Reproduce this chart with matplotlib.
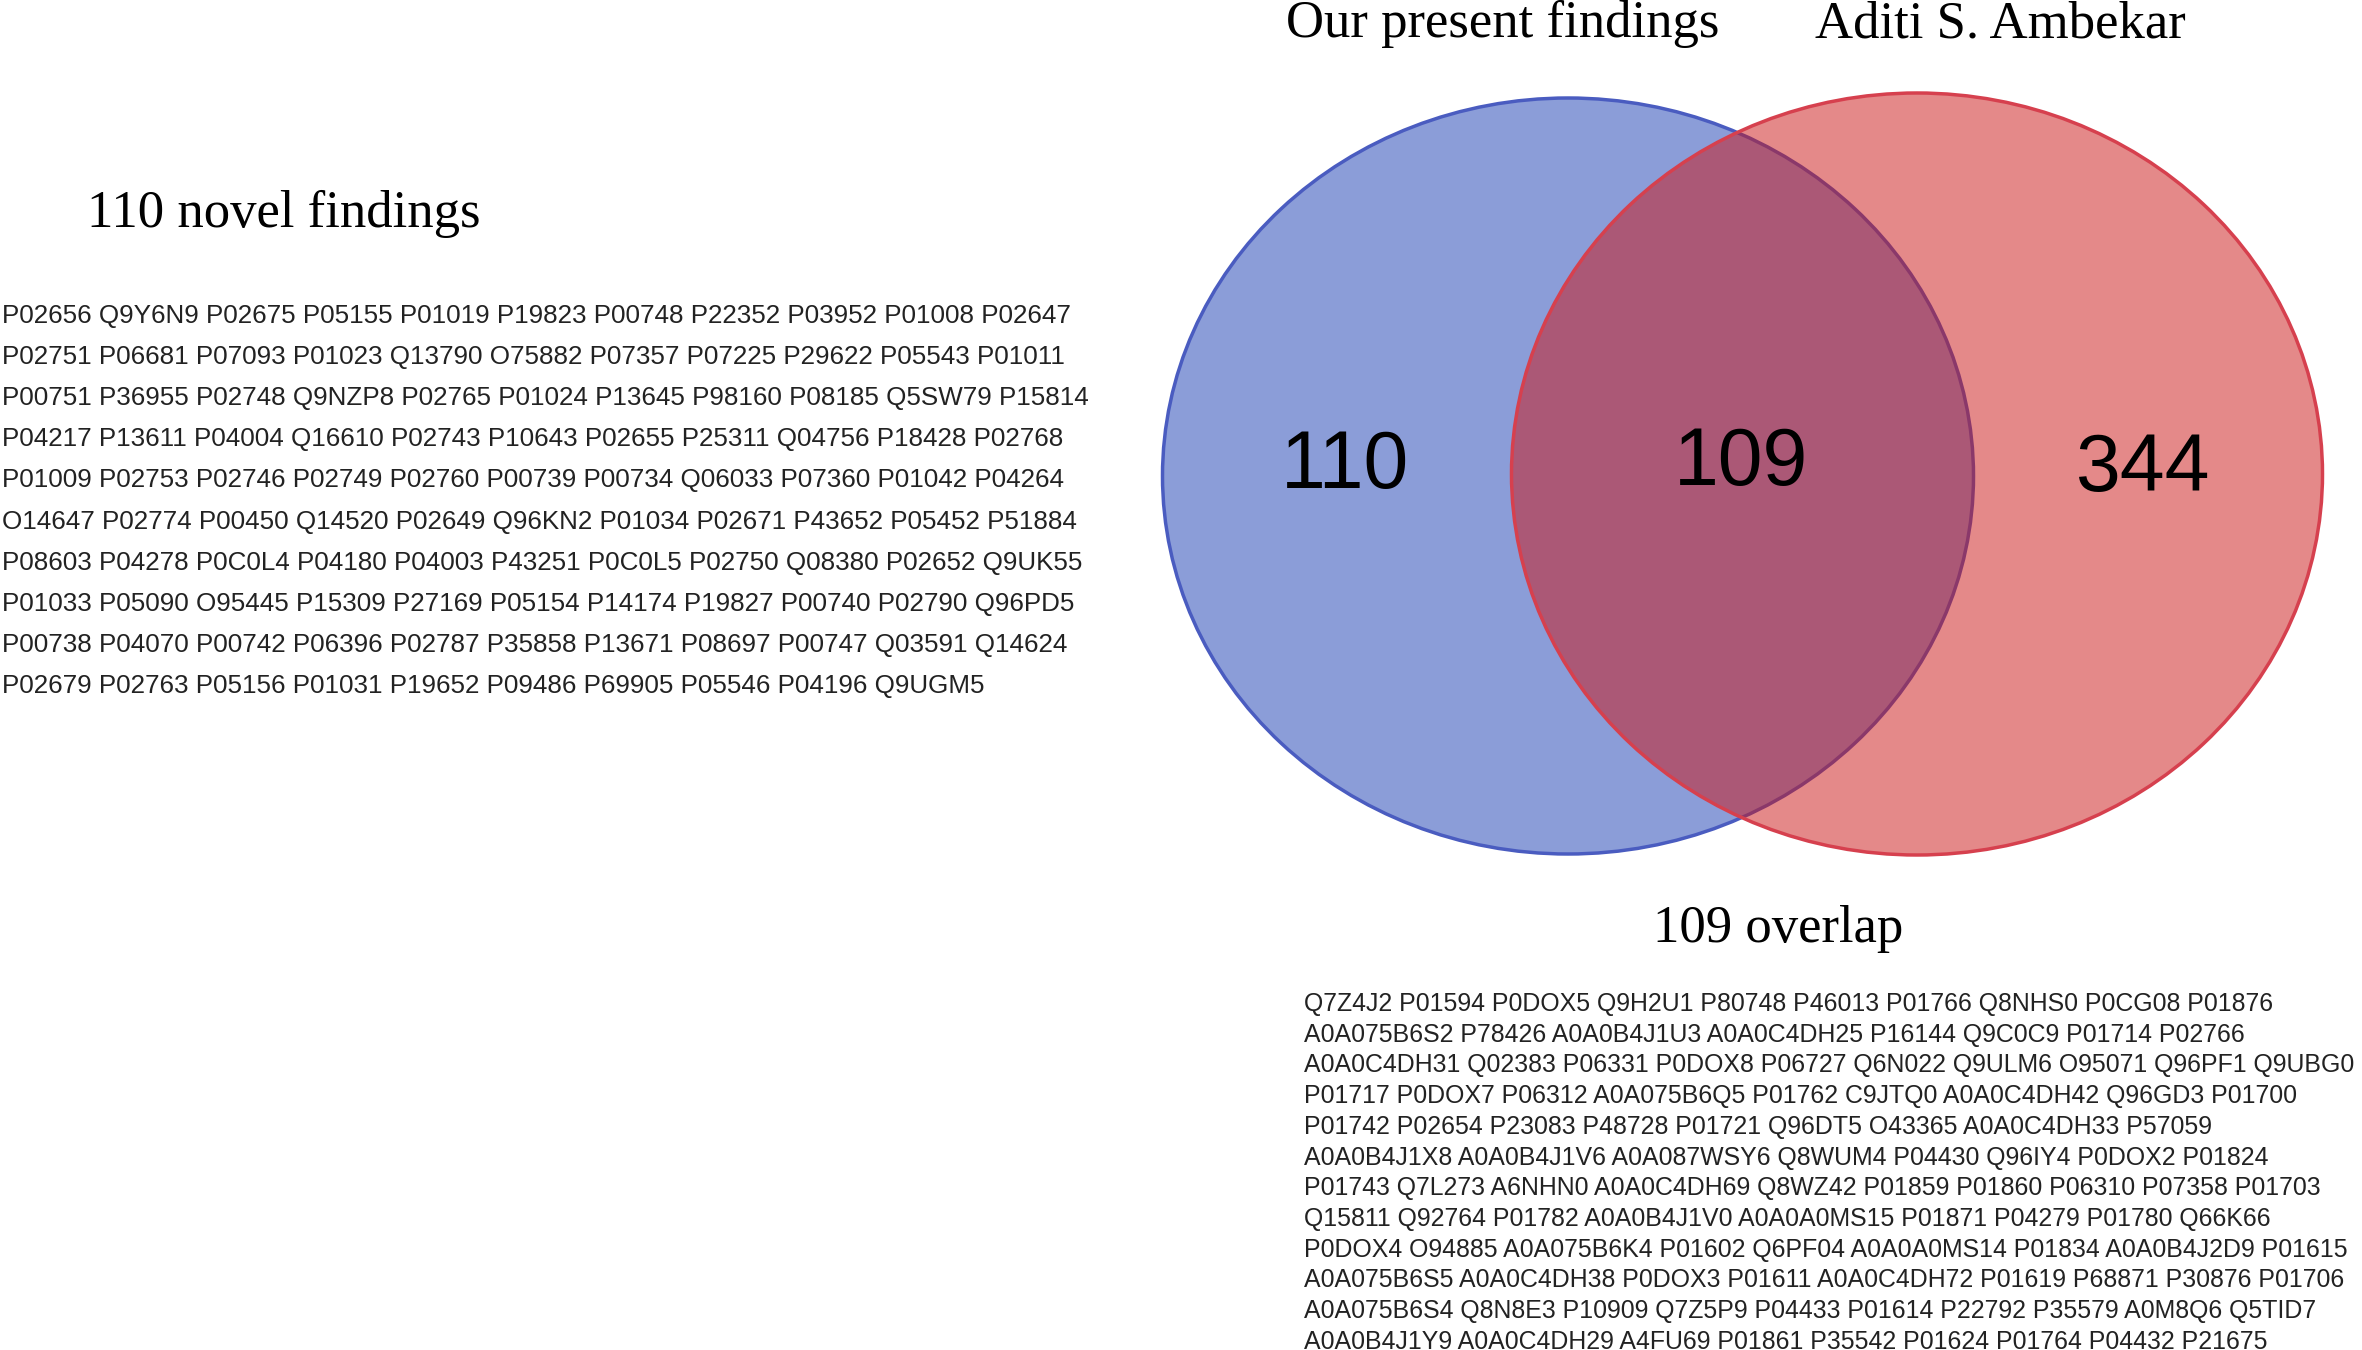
import matplotlib.pyplot as plt
from matplotlib.patches import Ellipse

# venn counts
n_only_ours = 110
n_overlap = 109
n_only_ambekar = 344
set_labels = ["Our present findings", "Aditi S. Ambekar"]

novel_ids = [
    "P02656 Q9Y6N9 P02675 P05155 P01019 P19823 P00748 P22352 P03952 P01008 P02647",
    "P02751 P06681 P07093 P01023 Q13790 O75882 P07357 P07225 P29622 P05543 P01011",
    "P00751 P36955 P02748 Q9NZP8 P02765 P01024 P13645 P98160 P08185 Q5SW79 P15814",
    "P04217 P13611 P04004 Q16610 P02743 P10643 P02655 P25311 Q04756 P18428 P02768",
    "P01009 P02753 P02746 P02749 P02760 P00739 P00734 Q06033 P07360 P01042 P04264",
    "O14647 P02774 P00450 Q14520 P02649 Q96KN2 P01034 P02671 P43652 P05452 P51884",
    "P08603 P04278 P0C0L4 P04180 P04003 P43251 P0C0L5 P02750 Q08380 P02652 Q9UK55",
    "P01033 P05090 O95445 P15309 P27169 P05154 P14174 P19827 P00740 P02790 Q96PD5",
    "P00738 P04070 P00742 P06396 P02787 P35858 P13671 P08697 P00747 Q03591 Q14624",
    "P02679 P02763 P05156 P01031 P19652 P09486 P69905 P05546 P04196 Q9UGM5",
]

overlap_ids = [
    "Q7Z4J2 P01594 P0DOX5 Q9H2U1 P80748 P46013 P01766 Q8NHS0 P0CG08 P01876",
    "A0A075B6S2 P78426 A0A0B4J1U3 A0A0C4DH25 P16144 Q9C0C9 P01714 P02766",
    "A0A0C4DH31 Q02383 P06331 P0DOX8 P06727 Q6N022 Q9ULM6 O95071 Q96PF1 Q9UBG0",
    "P01717 P0DOX7 P06312 A0A075B6Q5 P01762 C9JTQ0 A0A0C4DH42 Q96GD3 P01700",
    "P01742 P02654 P23083 P48728 P01721 Q96DT5 O43365 A0A0C4DH33 P57059",
    "A0A0B4J1X8 A0A0B4J1V6 A0A087WSY6 Q8WUM4 P04430 Q96IY4 P0DOX2 P01824",
    "P01743 Q7L273 A6NHN0 A0A0C4DH69 Q8WZ42 P01859 P01860 P06310 P07358 P01703",
    "Q15811 Q92764 P01782 A0A0B4J1V0 A0A0A0MS15 P01871 P04279 P01780 Q66K66",
    "P0DOX4 O94885 A0A075B6K4 P01602 Q6PF04 A0A0A0MS14 P01834 A0A0B4J2D9 P01615",
    "A0A075B6S5 A0A0C4DH38 P0DOX3 P01611 A0A0C4DH72 P01619 P68871 P30876 P01706",
    "A0A075B6S4 Q8N8E3 P10909 Q7Z5P9 P04433 P01614 P22792 P35579 A0M8Q6 Q5TID7",
    "A0A0B4J1Y9 A0A0C4DH29 A4FU69 P01861 P35542 P01624 P01764 P04432 P21675",
]

serif = ["Liberation Serif", "DejaVu Serif"]
sans = ["Liberation Sans", "DejaVu Sans"]

fig = plt.figure(figsize=(23.62, 13.5), dpi=100)
ax = fig.add_axes([0, 0, 1, 1])
ax.set_xlim(0, 2362)
ax.set_ylim(1350, 0)
ax.axis("off")

# the two circles (slightly stretched, like the original)
blue = Ellipse((1568, 476), 811, 756, facecolor=(25/255, 61/255, 179/255, 0.5),
               edgecolor="#4a5cc0", lw=2.5)
red = Ellipse((1917, 474), 811, 762, facecolor=(203/255, 21/255, 21/255, 0.5),
              edgecolor="#d6404e", lw=2.5)
ax.add_patch(blue)
ax.add_patch(red)

ax.text(1345, 467, str(n_only_ours), ha="center", va="center", fontsize=58, family=sans)
ax.text(1741, 464, str(n_overlap), ha="center", va="center", fontsize=58, family=sans)
ax.text(2143, 470, str(n_only_ambekar), ha="center", va="center", fontsize=58, family=sans)

ax.text(1503, 24, set_labels[0], ha="center", va="center", fontsize=38, family=serif)
ax.text(2000, 24, set_labels[1], ha="center", va="center", fontsize=38, family=serif)

ax.text(87, 214, f"{n_only_ours} novel findings", ha="left", va="center", fontsize=38, family=serif)
ax.text(1778, 929, f"{n_overlap} overlap", ha="center", va="center", fontsize=38, family=serif)

for i, line in enumerate(novel_ids):
    ax.text(2, 316 + i * 41.1, line, ha="left", va="center", fontsize=18.7, family=sans,
            color="#222222")

for i, line in enumerate(overlap_ids):
    ax.text(1304, 1004 + i * 30.7, line, ha="left", va="center", fontsize=17.9, family=sans,
            color="#222222")

fig.savefig("out.png", dpi=100)
